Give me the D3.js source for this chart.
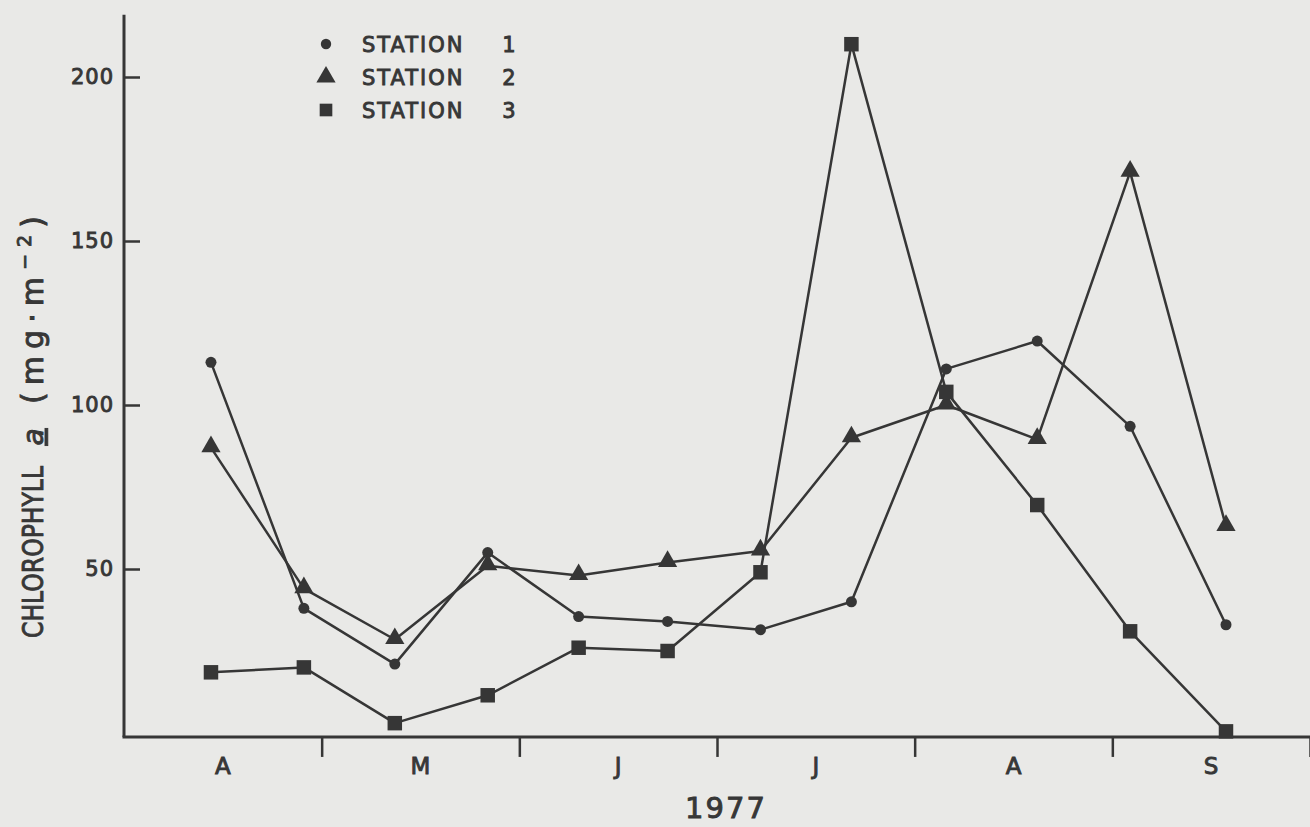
<!DOCTYPE html>
<html>
<head>
<meta charset="utf-8">
<script src="https://cdn.jsdelivr.net/npm/d3@7/dist/d3.min.js"></script>
<style>
  html, body { margin: 0; padding: 0; background: #e9e9e7; }
  svg { display: block; }
  text { font-family: "DejaVu Sans", "Liberation Sans", sans-serif; fill: #383838; }
</style>
</head>
<body>
<div id="chart"></div>
<script>
// ---- data ----
const sampleMonth = [0.44, 0.91, 1.37, 1.84, 2.30, 2.75, 3.22, 3.68, 4.16, 4.62, 5.09, 5.575]; // months after 1 April 1977
const station1 = [113, 38, 21, 55, 35.5, 34, 31.5, 40, 111, 119.5, 93.5, 33];
const station2 = [87, 44, 28.5, 51, 48, 52, 55.5, 90, 100, 89.5, 171, 63];
const station3 = [18.5, 20, 3, 11.5, 26, 25, 49, 210, 104, 69.5, 31, 0.5];
const monthLabels = ["A", "M", "J", "J", "A", "S"];
const yTicks = [50, 100, 150, 200];
const seriesNames = ["STATION", "STATION", "STATION"];
const seriesNumbers = ["1", "2", "3"];
const seriesShapes = ["circle", "triangle", "square"];
const yearLabel = "1977";

const W = 1310, H = 827;
const ink = "#363636";
const tw = 0.9; // text stroke to mimic heavy lettering

const svg = d3.select("#chart").append("svg")
  .attr("width", W).attr("height", H);

svg.append("rect").attr("width", W).attr("height", H).attr("fill", "#e9e9e7");

const x = d3.scaleLinear().domain([0, 6]).range([124, 1310]);
const y = d3.scaleLinear().domain([0, 200]).range([733, 77]);
const baseY = y(-1.2);
const topY = y(219);

// ---- axes ----
svg.append("line")
  .attr("x1", x(0)).attr("x2", x(0))
  .attr("y1", topY).attr("y2", baseY)
  .attr("stroke", ink).attr("stroke-width", 3);
svg.append("line")
  .attr("x1", x(0) - 1.5).attr("x2", x(6))
  .attr("y1", baseY).attr("y2", baseY)
  .attr("stroke", ink).attr("stroke-width", 3);

const yAxis = d3.axisLeft(y).tickValues(yTicks).tickSize(-16).tickPadding(10);
const gy = svg.append("g").attr("transform", `translate(${x(0)},0)`).call(yAxis);
gy.select(".domain").remove();
gy.selectAll(".tick line").attr("stroke", ink).attr("stroke-width", 2.5);
gy.selectAll(".tick text")
  .style("font-family", '"DejaVu Sans", sans-serif')
  .attr("font-size", 21).attr("fill", ink)
  .attr("letter-spacing", 1)
  .attr("stroke", ink).attr("stroke-width", tw);

const xAxis = d3.axisBottom(x).tickValues([1, 2, 3, 4, 5, 6]).tickSize(20).tickFormat("");
const gx = svg.append("g").attr("transform", `translate(0,${baseY})`).call(xAxis);
gx.select(".domain").remove();
gx.selectAll(".tick line").attr("stroke", ink).attr("stroke-width", 2.5);

svg.selectAll(".month").data(monthLabels).enter().append("text")
  .attr("class", "month")
  .attr("x", (d, i) => x(i + 0.5))
  .attr("y", 774)
  .attr("text-anchor", "middle")
  .attr("font-size", 23)
  .attr("stroke", ink).attr("stroke-width", tw)
  .text(d => d);

svg.append("text")
  .attr("x", 726).attr("y", 818)
  .attr("text-anchor", "middle")
  .attr("font-size", 29)
  .attr("letter-spacing", 2)
  .attr("stroke", ink).attr("stroke-width", tw)
  .text(yearLabel);

// y axis title (rotated, reading bottom to top)
const titleG = svg.append("g").attr("transform", "translate(43,0) rotate(-90)");
titleG.append("text")
  .attr("x", -638).attr("y", 0)
  .attr("font-size", 28)
  .attr("textLength", 172).attr("lengthAdjust", "spacingAndGlyphs")
  .attr("stroke", ink).attr("stroke-width", tw)
  .text("CHLOROPHYLL");
titleG.append("text")
  .attr("x", -437).attr("y", 0)
  .attr("text-anchor", "middle")
  .attr("font-size", 28)
  .attr("font-style", "italic")
  .attr("text-decoration", "underline")
  .attr("stroke", ink).attr("stroke-width", tw)
  .text("a");
const paren = titleG.append("text")
  .attr("x", -404).attr("y", 0)
  .attr("font-size", 30)
  .attr("textLength", 188).attr("lengthAdjust", "spacing")
  .attr("stroke", ink).attr("stroke-width", tw);
paren.append("tspan").text("(mg·m");
paren.append("tspan").attr("dy", -12).attr("font-size", 19).text("−2");
paren.append("tspan").attr("dy", 12).text(")");

// ---- series ----
const series = [station1, station2, station3];
const line = d3.line().x((d, i) => x(sampleMonth[i])).y(d => y(d));

const symSize = { circle: 95, triangle: 160, square: 210 };
const symType = { circle: d3.symbolCircle, triangle: d3.symbolTriangle, square: d3.symbolSquare };

series.forEach(vals => {
  svg.append("path")
    .datum(vals)
    .attr("d", line)
    .attr("fill", "none")
    .attr("stroke", ink)
    .attr("stroke-width", 2.5)
    .attr("stroke-linejoin", "round");
});

series.forEach((vals, si) => {
  const shape = seriesShapes[si];
  svg.selectAll(".m" + si).data(vals).enter().append("path")
    .attr("class", "m" + si)
    .attr("transform", (d, i) => `translate(${x(sampleMonth[i])},${y(d) + (shape === "triangle" ? -1 : 0)})`)
    .attr("d", d3.symbol().type(symType[shape]).size(symSize[shape]))
    .attr("fill", ink);
});

// ---- legend ----
const legend = svg.append("g");
const legendRows = [44, 77, 110];
seriesShapes.forEach((shape, i) => {
  legend.append("path")
    .attr("transform", `translate(326,${legendRows[i]})`)
    .attr("d", d3.symbol().type(symType[shape]).size(shape === "circle" ? 85 : 160))
    .attr("fill", ink);
  legend.append("text")
    .attr("x", 362).attr("y", legendRows[i] + 8)
    .attr("font-size", 21)
    .attr("letter-spacing", 2)
    .attr("stroke", ink).attr("stroke-width", tw)
    .text(seriesNames[i]);
  legend.append("text")
    .attr("x", 509).attr("y", legendRows[i] + 8)
    .attr("text-anchor", "middle")
    .attr("font-size", 21)
    .attr("stroke", ink).attr("stroke-width", tw)
    .text(seriesNumbers[i]);
});
</script>
</body>
</html>
